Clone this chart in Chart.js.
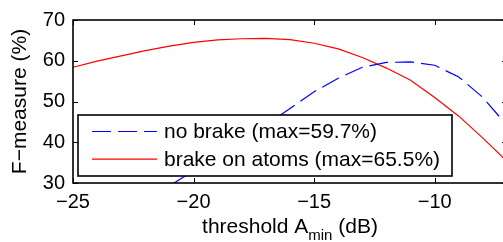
<!DOCTYPE html>
<html>
<head>
<meta charset="utf-8">
<title>F-measure vs threshold</title>
<script src="https://cdn.jsdelivr.net/npm/chart.js@4.4.0/dist/chart.umd.min.js"></script>
<style>
    html, body { margin: 0; padding: 0; background: #fff; overflow: hidden; }
    #wrap { position: relative; width: 512px; height: 242px; }
</style>
</head>
<body>
<div id="wrap"><canvas id="fmeasureChart" width="512" height="242"></canvas></div>
<script>
// thresholds in dB (F-measure in %)
const thresholds = [-25, -24, -23, -22, -21, -20, -19, -18, -17, -16, -15, -14, -13, -12, -11, -10, -9, -8, -7];
const noBrake = [null, null, null, null, 29.3, 33.0, 36.8, 40.5, 44.2, 48.3, 52.4, 55.7, 58.4, 59.6, 59.7, 58.9, 56.0, 51.0, 44.1];
const brakeOnAtoms = [58.4, 59.9, 61.2, 62.5, 63.6, 64.5, 65.1, 65.4, 65.5, 65.2, 64.3, 62.9, 60.8, 58.2, 55.2, 51.0, 46.4, 41.0, 35.3];
const seriesLabels = ['no brake (max=59.7%)', 'brake on atoms (max=65.5%)'];
const xTickValues = [-25, -20, -15, -10];
const yTickValues = [30, 40, 50, 60, 70];

const FONT = '"Liberation Sans", Arial, Helvetica, sans-serif';
const minus = v => (v < 0 ? '\u2212' + Math.abs(v) : String(v));

function toPoints(values) {
    return thresholds.map((x, i) => ({ x: x, y: values[i] }));
}

// inward tick marks on all four sides plus the box frame
const frameTicks = {
    id: 'frameTicks',
    afterDatasetsDraw(chart) {
        const { ctx, chartArea: a, scales } = chart;
        const len = 5;
        ctx.save();
        ctx.strokeStyle = '#000';
        ctx.lineWidth = 1;
        ctx.beginPath();
        scales.x.ticks.forEach(t => {
            const px = Math.round(scales.x.getPixelForValue(t.value)) + 0.5;
            ctx.moveTo(px, a.bottom); ctx.lineTo(px, a.bottom - len);
            ctx.moveTo(px, a.top); ctx.lineTo(px, a.top + len);
        });
        scales.y.ticks.forEach(t => {
            const py = Math.round(scales.y.getPixelForValue(t.value)) + 0.5;
            ctx.moveTo(a.left, py); ctx.lineTo(a.left + len, py);
            ctx.moveTo(a.right, py); ctx.lineTo(a.right - len, py);
        });
        ctx.stroke();
        ctx.lineWidth = 1.6;
        ctx.strokeRect(a.left, a.top, a.right - a.left, a.bottom - a.top);
        ctx.restore();
    }
};

// boxed legend inside the plot, like the matlab one
const boxLegend = {
    id: 'boxLegend',
    afterDatasetsDraw(chart) {
        const { ctx } = chart;
        const box = { x: 78, y: 115, w: 374, h: 61 };
        ctx.save();
        ctx.fillStyle = '#fff';
        ctx.fillRect(box.x, box.y, box.w, box.h);
        ctx.strokeStyle = '#000';
        ctx.lineWidth = 1.6;
        ctx.strokeRect(box.x, box.y, box.w, box.h);
        chart.data.datasets.forEach((ds, i) => {
            const y = 131.5 + i * 27.6;
            ctx.beginPath();
            ctx.strokeStyle = ds.borderColor;
            ctx.lineWidth = ds.borderWidth;
            ctx.setLineDash(ds.borderDash || []);
            ctx.moveTo(92, y);
            ctx.lineTo(157, y);
            ctx.stroke();
            ctx.setLineDash([]);
            ctx.fillStyle = '#000';
            ctx.font = '21px ' + FONT;
            ctx.textBaseline = 'middle';
            ctx.textAlign = 'left';
            ctx.fillText(ds.label, 164, y + 1);
        });
        ctx.restore();
    }
};

// x axis title with subscript
const xTitle = {
    id: 'xTitle',
    afterDraw(chart) {
        const { ctx, chartArea: a } = chart;
        const main1 = 'threshold A', sub = 'min', main2 = ' (dB)';
        ctx.save();
        ctx.fillStyle = '#000';
        ctx.textBaseline = 'alphabetic';
        ctx.textAlign = 'left';
        ctx.font = '21px ' + FONT;
        const w1 = ctx.measureText(main1).width;
        const w3 = ctx.measureText(main2).width;
        ctx.font = '15px ' + FONT;
        const w2 = ctx.measureText(sub).width;
        let x = (a.left + a.right) / 2 - (w1 + w2 + w3) / 2;
        const base = 233;
        ctx.font = '21px ' + FONT;
        ctx.fillText(main1, x, base);
        x += w1;
        ctx.font = '15px ' + FONT;
        ctx.fillText(sub, x, base + 7);
        x += w2;
        ctx.font = '21px ' + FONT;
        ctx.fillText(main2, x, base);
        ctx.restore();
    }
};

const ctx = document.getElementById('fmeasureChart').getContext('2d');
new Chart(ctx, {
    type: 'line',
    data: {
        datasets: [{
            label: seriesLabels[0],
            data: toPoints(noBrake),
            borderColor: '#0000ff',
            borderWidth: 1.2,
            borderDash: [19, 7],
            pointRadius: 0,
            fill: false,
            tension: 0
        }, {
            label: seriesLabels[1],
            data: toPoints(brakeOnAtoms),
            borderColor: '#ff0000',
            borderWidth: 1.2,
            pointRadius: 0,
            fill: false,
            tension: 0
        }]
    },
    options: {
        responsive: false,
        animation: false,
        devicePixelRatio: 1,
        layout: { padding: { top: 13, right: 5, left: 0, bottom: 0 } },
        plugins: { legend: { display: false }, tooltip: { enabled: false } },
        scales: {
            x: {
                type: 'linear',
                min: -25,
                max: -7,
                grid: { display: false, drawTicks: false },
                border: { display: false },
                afterBuildTicks: s => { s.ticks = xTickValues.map(v => ({ value: v })); },
                afterFit: s => { s.height = 59; },
                ticks: {
                    color: '#000',
                    font: { family: FONT, size: 20 },
                    padding: 7,
                    maxRotation: 0,
                    callback: v => minus(v)
                }
            },
            y: {
                min: 30,
                max: 70,
                grid: { display: false, drawTicks: false },
                border: { display: false },
                afterBuildTicks: s => { s.ticks = yTickValues.map(v => ({ value: v })); },
                afterFit: s => { s.width = 73; },
                ticks: {
                    color: '#000',
                    font: { family: FONT, size: 20 },
                    padding: 8,
                    callback: v => minus(v)
                },
                title: {
                    display: true,
                    text: 'F\u2212measure (%)',
                    color: '#000',
                    font: { family: FONT, size: 21 },
                    padding: { top: 8, bottom: 0 }
                }
            }
        }
    },
    plugins: [frameTicks, boxLegend, xTitle]
});
</script>
</body>
</html>
